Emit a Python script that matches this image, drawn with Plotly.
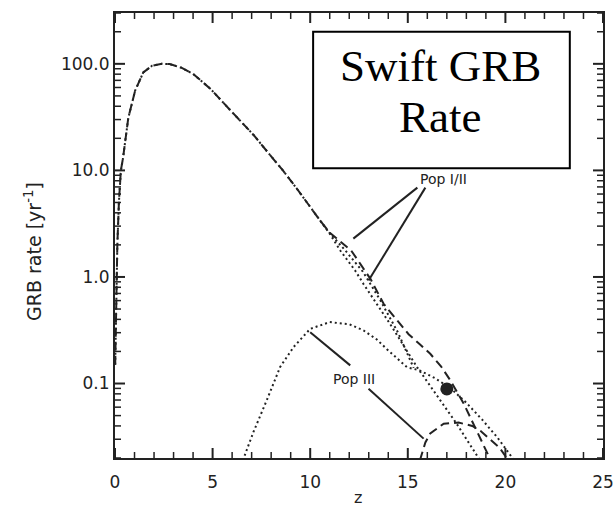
import math
import plotly.graph_objects as go

# ---- data ----
z_shared = [0.01, 0.06, 0.12, 0.2, 0.3, 0.41, 0.68, 1.03, 1.45, 1.9, 2.4, 2.8, 3.4, 4.0,
            4.9, 5.8, 6.5, 7.1, 7.8, 8.6, 9.3, 10.0, 10.5]
rate_shared = [0.15, 0.6, 2.0, 5.0, 10.0, 13.0, 31.0, 56.0, 83.0, 96.0, 100.0, 99.5, 92.0, 80.5,
               58.0, 38.5, 28.0, 21.5, 15.0, 10.0, 6.8, 4.5, 3.4]

popI_dot_z = [11.0, 11.54, 12.3, 12.73, 14.1, 15.47, 16.5, 17.5, 18.7]
popI_dot_rate = [2.55, 1.77, 1.15, 0.86, 0.36, 0.143, 0.076, 0.042, 0.019]

popI_dash_z = [11.0, 11.5, 12.1, 12.6, 13.1, 13.76, 14.4, 15.04, 15.6, 16.15, 16.7, 17.18,
               17.86, 18.5, 19.25]
popI_dash_rate = [2.6, 2.2, 1.77, 1.3, 0.95, 0.56, 0.4, 0.29, 0.235, 0.19, 0.145, 0.107,
                  0.065, 0.037, 0.019]

total_dot_z = [10.5, 11.0, 11.8, 12.7, 13.6, 14.5, 15.3]
total_dot_rate = [3.4, 2.58, 1.77, 1.12, 0.6, 0.3, 0.14]

popIII_dot_z = [6.55, 7.09, 7.78, 8.46, 9.15, 10.0, 11.0, 12.0, 12.73, 13.4, 13.93, 14.5,
                14.96, 15.6, 16.4, 17.2, 18.0, 18.8, 19.6, 20.45]
popIII_dot_rate = [0.019, 0.035, 0.07, 0.143, 0.22, 0.326, 0.377, 0.36, 0.315, 0.26, 0.21, 0.17,
                   0.142, 0.133, 0.112, 0.09, 0.066, 0.046, 0.031, 0.019]

popIII_dash_z = [15.62, 15.9, 16.15, 16.84, 17.6, 18.3, 18.72, 19.2, 19.7, 20.15]
popIII_dash_rate = [0.019, 0.028, 0.034, 0.042, 0.043, 0.04, 0.036, 0.03, 0.025, 0.019]

obs_z = [17.0]
obs_rate = [0.089]

x_ticks = [0, 5, 10, 15, 20, 25]
y_ticks = [0.1, 1, 10, 100]
y_ticktext = ["0.1", "1.0", "10.0", "100.0"]

# label leader lines (endpoints)
popI_lines = [((15.49, 6.89), (12.21, 2.29)), ((15.9, 6.89), (12.99, 0.925))]
popIII_lines = [((10.0, 0.303), (12.05, 0.148)), ((12.99, 0.0893), (15.81, 0.0304))]

INK = "#222222"
DASH = "9px,5px"
DOT = "2px,3px"
W, H = 616, 508
M = dict(l=115, r=13, t=13, b=50)
X_RANGE = [0, 25]
Y_MIN, Y_MAX = 0.02, 300
Y_RANGE = [math.log10(Y_MIN), math.log10(Y_MAX)]

fig = go.Figure()

def add_line(x, y, dash, width=2):
    fig.add_trace(go.Scatter(x=x, y=y, mode="lines", hoverinfo="skip",
                             line=dict(color=INK, width=width, dash=dash)))

add_line(z_shared + popI_dash_z, rate_shared + popI_dash_rate, DASH)
add_line(z_shared + popI_dot_z, rate_shared + popI_dot_rate, DOT)
add_line(total_dot_z, total_dot_rate, DOT)
add_line(popIII_dot_z, popIII_dot_rate, DOT)
add_line(popIII_dash_z, popIII_dash_rate, DASH)

for (a, b) in popI_lines + popIII_lines:
    add_line([a[0], b[0]], [a[1], b[1]], "solid")

fig.add_trace(go.Scatter(x=obs_z, y=obs_rate, mode="markers", hoverinfo="skip",
                         marker=dict(color=INK, size=13, symbol="circle")))

# ---- inward tick marks on all four sides (IDL style), built from the axis scales ----
plot_w = W - M["l"] - M["r"]
plot_h = H - M["t"] - M["b"]
x_per_px = (X_RANGE[1] - X_RANGE[0]) / plot_w
dec_per_px = (Y_RANGE[1] - Y_RANGE[0]) / plot_h
minor_x = [v for v in range(X_RANGE[0], X_RANGE[1] + 1) if v not in x_ticks]
minor_y = [k * 10 ** e for e in range(-2, 3) for k in range(2, 10)
           if Y_MIN <= k * 10 ** e <= Y_MAX]

def x_tick_segments(vals, length_px):
    xs, ys = [], []
    f = 10 ** (length_px * dec_per_px)
    for v in vals:
        xs += [v, v, None, v, v, None]
        ys += [Y_MIN, Y_MIN * f, None, Y_MAX, Y_MAX / f, None]
    return xs, ys

def y_tick_segments(vals, length_px):
    xs, ys = [], []
    d = length_px * x_per_px
    for v in vals:
        xs += [X_RANGE[0], X_RANGE[0] + d, None, X_RANGE[1], X_RANGE[1] - d, None]
        ys += [v, v, None, v, v, None]
    return xs, ys

for seg, width in ((x_tick_segments(x_ticks, 10), 2), (x_tick_segments(minor_x, 6), 1.5),
                   (y_tick_segments(y_ticks, 10), 2), (y_tick_segments(minor_y, 6), 1.5)):
    fig.add_trace(go.Scatter(x=seg[0], y=seg[1], mode="lines", hoverinfo="skip",
                             connectgaps=False, line=dict(color=INK, width=width)))

label_font = dict(family="DejaVu Sans", size=14, color=INK)
annotations = [
    dict(text="Pop I/II", x=16.82, y=0.922, xref="x", yref="y", showarrow=False, font=label_font),
    dict(text="Pop III", x=12.26, y=-0.962, xref="x", yref="y", showarrow=False, font=label_font),
    dict(text="Swift GRB", x=0.666, y=0.882, xref="paper", yref="paper", showarrow=False,
         font=dict(family="Liberation Serif", size=45, color="black"), yanchor="middle"),
    dict(text="Rate", x=0.666, y=0.766, xref="paper", yref="paper", showarrow=False,
         font=dict(family="Liberation Serif", size=45, color="black"), yanchor="middle"),
    dict(text="z", x=0.498, y=-0.088, xref="paper", yref="paper", showarrow=False,
         font=dict(family="DejaVu Sans", size=16, color=INK), yanchor="middle"),
    dict(text="GRB rate [yr<sup>-1</sup>]", x=-0.168, y=0.463, xref="paper", yref="paper",
         showarrow=False, textangle=-90, font=dict(family="DejaVu Sans", size=19, color=INK),
         xanchor="center", yanchor="middle"),
]

fig.update_layout(
    width=W, height=H,
    margin=M,
    plot_bgcolor="white", paper_bgcolor="white",
    showlegend=False,
    xaxis=dict(range=X_RANGE, tickmode="array", tickvals=x_ticks, ticks="",
               showgrid=False, zeroline=False, showline=True, linecolor=INK, linewidth=2,
               mirror=True, automargin=False, ticklabelstandoff=8,
               tickfont=dict(family="DejaVu Sans", size=17, color=INK)),
    yaxis=dict(type="log", range=Y_RANGE, tickmode="array", tickvals=y_ticks,
               ticktext=y_ticktext, ticks="",
               showgrid=False, zeroline=False, showline=True, linecolor=INK, linewidth=2,
               mirror=True, automargin=False,
               tickfont=dict(family="DejaVu Sans", size=17, color=INK)),
    annotations=annotations,
    shapes=[dict(type="rect", xref="paper", yref="paper", x0=0.406, x1=0.932, y0=0.651, y1=0.958,
                 line=dict(color="black", width=2), fillcolor="white", layer="above")],
)

fig.write_html("out.html")
